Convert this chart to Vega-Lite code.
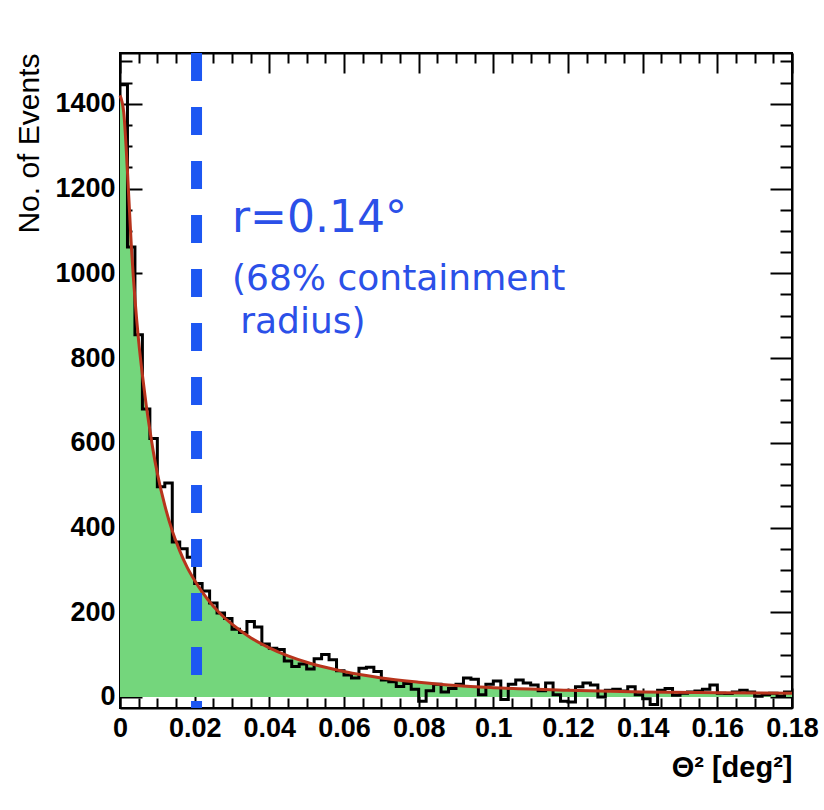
{
  "$schema": "https://vega.github.io/schema/vega-lite/v6.json",
  "autosize": {"type": "none"},
  "padding": {"left": 120, "top": 53, "right": 32, "bottom": 102},
  "width": 672,
  "height": 655,
  "background": "white",
  "config": {
    "font": "Liberation Sans",
    "view": {"stroke": "black", "strokeWidth": 2}
  },
  "datasets": {
    "fit": [
      {"theta2": 0.000, "events": 1420},
      {"theta2": 0.001, "events": 1380},
      {"theta2": 0.002, "events": 1240},
      {"theta2": 0.003, "events": 1070},
      {"theta2": 0.004, "events": 940},
      {"theta2": 0.005, "events": 840},
      {"theta2": 0.006, "events": 760},
      {"theta2": 0.007, "events": 690},
      {"theta2": 0.008, "events": 630},
      {"theta2": 0.009, "events": 575},
      {"theta2": 0.010, "events": 528},
      {"theta2": 0.012, "events": 452},
      {"theta2": 0.014, "events": 392},
      {"theta2": 0.016, "events": 345},
      {"theta2": 0.018, "events": 306},
      {"theta2": 0.020, "events": 275},
      {"theta2": 0.022, "events": 248},
      {"theta2": 0.025, "events": 214},
      {"theta2": 0.028, "events": 187},
      {"theta2": 0.030, "events": 172},
      {"theta2": 0.035, "events": 140},
      {"theta2": 0.040, "events": 116},
      {"theta2": 0.045, "events": 97},
      {"theta2": 0.050, "events": 82},
      {"theta2": 0.055, "events": 70},
      {"theta2": 0.060, "events": 60},
      {"theta2": 0.070, "events": 45},
      {"theta2": 0.080, "events": 35},
      {"theta2": 0.090, "events": 27},
      {"theta2": 0.100, "events": 22},
      {"theta2": 0.120, "events": 16},
      {"theta2": 0.140, "events": 12},
      {"theta2": 0.160, "events": 10},
      {"theta2": 0.180, "events": 9}
    ],
    "hist": [
      {"theta2": 0.000, "events": 1445},
      {"theta2": 0.002, "events": 1062},
      {"theta2": 0.004, "events": 855},
      {"theta2": 0.006, "events": 680},
      {"theta2": 0.008, "events": 610},
      {"theta2": 0.010, "events": 496},
      {"theta2": 0.012, "events": 505},
      {"theta2": 0.014, "events": 366},
      {"theta2": 0.016, "events": 350},
      {"theta2": 0.018, "events": 330},
      {"theta2": 0.020, "events": 268},
      {"theta2": 0.022, "events": 250},
      {"theta2": 0.024, "events": 222},
      {"theta2": 0.026, "events": 198},
      {"theta2": 0.028, "events": 185},
      {"theta2": 0.030, "events": 160},
      {"theta2": 0.032, "events": 152},
      {"theta2": 0.034, "events": 178},
      {"theta2": 0.036, "events": 165},
      {"theta2": 0.038, "events": 125},
      {"theta2": 0.040, "events": 115},
      {"theta2": 0.042, "events": 112},
      {"theta2": 0.044, "events": 85},
      {"theta2": 0.046, "events": 72},
      {"theta2": 0.048, "events": 78},
      {"theta2": 0.050, "events": 66},
      {"theta2": 0.052, "events": 90},
      {"theta2": 0.054, "events": 100},
      {"theta2": 0.056, "events": 88},
      {"theta2": 0.058, "events": 62},
      {"theta2": 0.060, "events": 52},
      {"theta2": 0.062, "events": 45},
      {"theta2": 0.064, "events": 68},
      {"theta2": 0.066, "events": 70},
      {"theta2": 0.068, "events": 60},
      {"theta2": 0.070, "events": 40},
      {"theta2": 0.072, "events": 36},
      {"theta2": 0.074, "events": 25},
      {"theta2": 0.076, "events": 32},
      {"theta2": 0.078, "events": 18},
      {"theta2": 0.080, "events": -10},
      {"theta2": 0.082, "events": 15},
      {"theta2": 0.084, "events": 30},
      {"theta2": 0.086, "events": 12},
      {"theta2": 0.088, "events": 20},
      {"theta2": 0.090, "events": 30},
      {"theta2": 0.092, "events": 45},
      {"theta2": 0.094, "events": 42},
      {"theta2": 0.096, "events": 5},
      {"theta2": 0.098, "events": 30},
      {"theta2": 0.100, "events": 38},
      {"theta2": 0.102, "events": -6},
      {"theta2": 0.104, "events": 30},
      {"theta2": 0.106, "events": 40},
      {"theta2": 0.108, "events": 33},
      {"theta2": 0.110, "events": 28},
      {"theta2": 0.112, "events": 15},
      {"theta2": 0.114, "events": 33},
      {"theta2": 0.116, "events": 5},
      {"theta2": 0.118, "events": -10},
      {"theta2": 0.120, "events": -12},
      {"theta2": 0.122, "events": 24},
      {"theta2": 0.124, "events": 33},
      {"theta2": 0.126, "events": 28},
      {"theta2": 0.128, "events": 0},
      {"theta2": 0.130, "events": 16},
      {"theta2": 0.132, "events": 18},
      {"theta2": 0.134, "events": 14},
      {"theta2": 0.136, "events": 24},
      {"theta2": 0.138, "events": 5},
      {"theta2": 0.140, "events": -4},
      {"theta2": 0.142, "events": -18},
      {"theta2": 0.144, "events": 16},
      {"theta2": 0.146, "events": 20},
      {"theta2": 0.148, "events": 4},
      {"theta2": 0.150, "events": 9},
      {"theta2": 0.152, "events": 12},
      {"theta2": 0.154, "events": 14},
      {"theta2": 0.156, "events": 18},
      {"theta2": 0.158, "events": 28},
      {"theta2": 0.160, "events": 9},
      {"theta2": 0.162, "events": 8},
      {"theta2": 0.164, "events": 12},
      {"theta2": 0.166, "events": 16},
      {"theta2": 0.168, "events": 12},
      {"theta2": 0.170, "events": 2},
      {"theta2": 0.172, "events": 5},
      {"theta2": 0.174, "events": 9},
      {"theta2": 0.176, "events": 2},
      {"theta2": 0.178, "events": 12},
      {"theta2": 0.180, "events": 12}
    ]
  },
  "resolve": {"axis": {"x": "independent", "y": "independent"}},
  "layer": [
    {
      "data": {"name": "fit"},
      "mark": {"type": "area", "interpolate": "monotone", "color": "#74d67c", "opacity": 1},
      "encoding": {
        "x": {
          "field": "theta2", "type": "quantitative",
          "scale": {"domain": [0, 0.18], "nice": false, "zero": false},
          "axis": {
            "orient": "bottom",
            "values": [0, 0.005, 0.01, 0.015, 0.02, 0.025, 0.03, 0.035, 0.04, 0.045, 0.05, 0.055, 0.06, 0.065, 0.07, 0.075, 0.08, 0.085, 0.09, 0.095, 0.1, 0.105, 0.11, 0.115, 0.12, 0.125, 0.13, 0.135, 0.14, 0.145, 0.15, 0.155, 0.16, 0.165, 0.17, 0.175, 0.18],
            "labelExpr": "abs(round(datum.value*1000) % 20) == 0 ? (datum.value == 0 ? '0' : format(datum.value, '.2~f')) : ''",
            "tickSize": {"condition": {"test": "abs(round(datum.value*1000) % 20) == 0", "value": -20}, "value": -10},
            "tickColor": "black", "tickWidth": 2,
            "domainColor": "black", "domainWidth": 2,
            "grid": false,
            "labelFlush": false, "labelOverlap": false,
            "labelFont": "Liberation Sans", "labelFontWeight": "bold", "labelFontSize": 27, "labelColor": "black",
            "labelPadding": 27, "labelBaseline": "top",
            "title": "Θ² [deg²]",
            "titleFont": "Liberation Sans", "titleFontWeight": "bold", "titleFontSize": 29, "titleColor": "black",
            "titleX": 672, "titleY": 68, "titleAlign": "right", "titleBaseline": "alphabetic", "titleAnchor": null
          }
        },
        "y": {
          "field": "events", "type": "quantitative",
          "scale": {"domain": [-26, 1520], "nice": false, "zero": false},
          "axis": {
            "orient": "left",
            "values": [0, 50, 100, 150, 200, 250, 300, 350, 400, 450, 500, 550, 600, 650, 700, 750, 800, 850, 900, 950, 1000, 1050, 1100, 1150, 1200, 1250, 1300, 1350, 1400, 1450, 1500],
            "labelExpr": "datum.value % 200 == 0 ? format(datum.value, 'd') : ''",
            "tickSize": {"condition": {"test": "datum.value % 200 == 0", "value": -22}, "value": -12},
            "tickColor": "black", "tickWidth": 2,
            "domainColor": "black", "domainWidth": 2,
            "grid": false,
            "labelFlush": false, "labelOverlap": false,
            "labelFont": "Liberation Sans", "labelFontWeight": "bold", "labelFontSize": 27, "labelColor": "black",
            "labelPadding": 27, "labelBaseline": "middle",
            "title": "No. of Events",
            "titleFont": "Liberation Sans", "titleFontWeight": "normal", "titleFontSize": 30, "titleColor": "black",
            "titleAngle": -90, "titleX": -91, "titleY": 0, "titleAlign": "right", "titleBaseline": "middle"
          }
        },
        "y2": {"datum": 0}
      }
    },
    {
      "data": {"name": "hist"},
      "mark": {"type": "line", "interpolate": "step-after", "color": "black", "strokeWidth": 3},
      "encoding": {
        "x": {"field": "theta2", "type": "quantitative", "axis": null},
        "y": {"field": "events", "type": "quantitative", "axis": null}
      }
    },
    {
      "data": {"name": "fit"},
      "mark": {"type": "line", "interpolate": "monotone", "color": "#b8341c", "strokeWidth": 3},
      "encoding": {
        "x": {
          "field": "theta2", "type": "quantitative",
          "axis": {
            "orient": "top",
            "values": [0, 0.005, 0.01, 0.015, 0.02, 0.025, 0.03, 0.035, 0.04, 0.045, 0.05, 0.055, 0.06, 0.065, 0.07, 0.075, 0.08, 0.085, 0.09, 0.095, 0.1, 0.105, 0.11, 0.115, 0.12, 0.125, 0.13, 0.135, 0.14, 0.145, 0.15, 0.155, 0.16, 0.165, 0.17, 0.175, 0.18],
            "labels": false,
            "tickSize": {"condition": {"test": "abs(round(datum.value*1000) % 20) == 0", "value": -20}, "value": -10},
            "tickColor": "black", "tickWidth": 2,
            "domainColor": "black", "domainWidth": 2,
            "grid": false, "title": null
          }
        },
        "y": {
          "field": "events", "type": "quantitative",
          "axis": {
            "orient": "right",
            "values": [0, 50, 100, 150, 200, 250, 300, 350, 400, 450, 500, 550, 600, 650, 700, 750, 800, 850, 900, 950, 1000, 1050, 1100, 1150, 1200, 1250, 1300, 1350, 1400, 1450, 1500],
            "labels": false,
            "tickSize": {"condition": {"test": "datum.value % 200 == 0", "value": -22}, "value": -12},
            "tickColor": "black", "tickWidth": 2,
            "domainColor": "black", "domainWidth": 2,
            "grid": false, "title": null
          }
        }
      }
    },
    {
      "data": {"values": [{"theta2": 0.0205}]},
      "mark": {"type": "rule", "color": "#1d57f2", "strokeWidth": 11, "strokeDash": [28, 26]},
      "encoding": {
        "x": {"field": "theta2", "type": "quantitative", "axis": null}
      }
    },
    {
      "data": {"values": [{"label": "r=0.14°"}]},
      "mark": {"type": "text", "align": "left", "baseline": "alphabetic", "font": "DejaVu Sans", "fontSize": 44, "color": "#2b50e8"},
      "encoding": {
        "x": {"datum": 0.030, "type": "quantitative", "axis": null},
        "y": {"datum": 1098, "type": "quantitative", "axis": null},
        "text": {"field": "label"}
      }
    },
    {
      "data": {"values": [{"label": "(68% containment"}]},
      "mark": {"type": "text", "align": "left", "baseline": "alphabetic", "font": "DejaVu Sans", "fontSize": 36, "color": "#2b50e8"},
      "encoding": {
        "x": {"datum": 0.030, "type": "quantitative", "axis": null},
        "y": {"datum": 961, "type": "quantitative", "axis": null},
        "text": {"field": "label"}
      }
    },
    {
      "data": {"values": [{"label": "radius)"}]},
      "mark": {"type": "text", "align": "left", "baseline": "alphabetic", "font": "DejaVu Sans", "fontSize": 36, "color": "#2b50e8"},
      "encoding": {
        "x": {"datum": 0.0322, "type": "quantitative", "axis": null},
        "y": {"datum": 859, "type": "quantitative", "axis": null},
        "text": {"field": "label"}
      }
    }
  ]
}
